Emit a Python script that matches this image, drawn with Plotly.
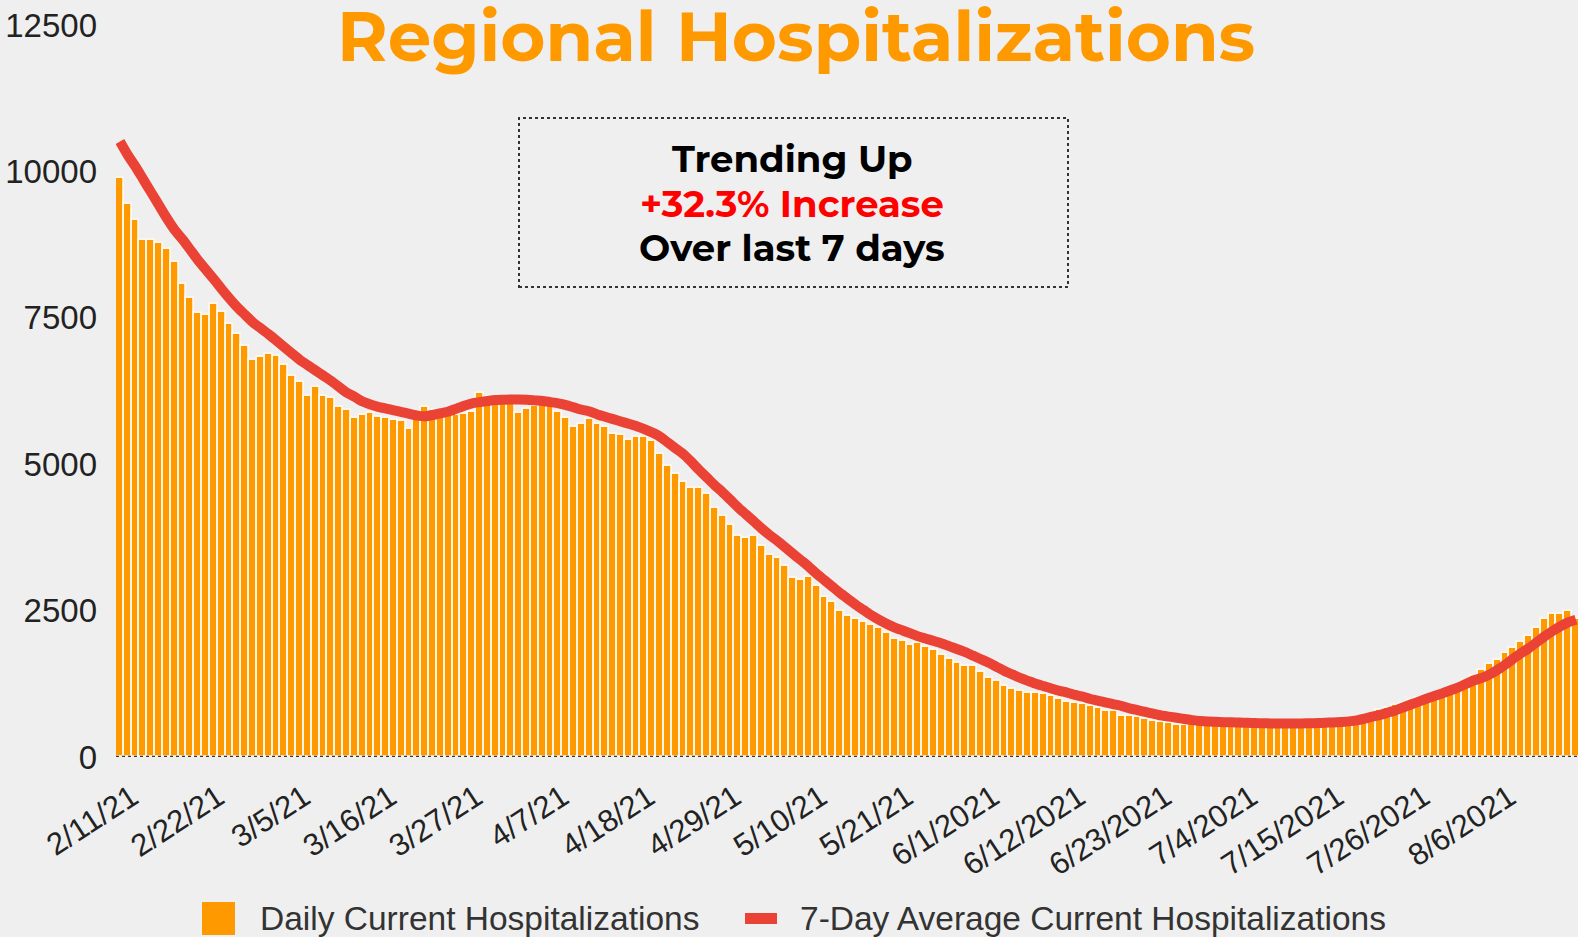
import pandas as pd
import plotly.graph_objects as go

# ---- data -------------------------------------------------------------
start_date = "2021-02-11"

daily_hosp = [
    9880, 9440, 9170, 8830, 8830, 8780, 8680, 8450, 8080, 7830,
    7590, 7550, 7730, 7600, 7400, 7220, 7020, 6780, 6830, 6880,
    6840, 6690, 6510, 6410, 6170, 6310, 6170, 6130, 5980, 5930,
    5790, 5840, 5870, 5800, 5790, 5760, 5730, 5600, 5800, 5970,
    5920, 5800, 5850, 5840, 5860, 5900, 6220, 6150, 6050, 6060,
    6040, 5880, 5950, 6000, 6010, 5990, 5900, 5790, 5640, 5680,
    5770, 5680, 5630, 5510, 5500, 5420, 5460, 5460, 5390, 5170,
    4970, 4840, 4700, 4590, 4590, 4490, 4250, 4110, 3960, 3780,
    3740, 3780, 3600, 3450, 3400, 3270, 3060, 3030, 3070, 2920,
    2730, 2640, 2500, 2400, 2350, 2310, 2260, 2200, 2120, 2020,
    1980, 1920, 1950, 1880, 1830, 1740, 1680, 1600, 1550, 1550,
    1450, 1350, 1290, 1210, 1160, 1120, 1100, 1090, 1070, 1040,
    990, 940, 920, 900, 870, 840, 780, 780, 700, 700,
    690, 650, 610, 600, 580, 550, 540, 570, 560, 575,
    580, 565, 570, 585, 575, 560, 570, 580, 565, 575,
    580, 570, 585, 590, 580, 595, 600, 610, 620, 680,
    740, 800, 840, 880, 920, 980, 1000, 1040, 1080, 1120,
    1160, 1220, 1310, 1390, 1490, 1580, 1650, 1770, 1860, 1960,
    2060, 2200, 2350, 2450, 2450, 2490, 2350,
]

avg_7day = [
    10510, 10280, 10080, 9860, 9640, 9420, 9200, 9000, 8840, 8660,
    8480, 8320, 8160, 7990, 7830, 7680, 7550, 7420, 7320, 7220,
    7110, 7000, 6890, 6780, 6690, 6600, 6510, 6420, 6320, 6220,
    6150, 6070, 6020, 5980, 5950, 5920, 5890, 5860, 5830, 5820,
    5840, 5870, 5900, 5950, 6000, 6040, 6060, 6080, 6095, 6100,
    6105, 6105, 6100, 6090, 6080, 6060, 6040, 6010, 5970, 5930,
    5900, 5850, 5810, 5770, 5730, 5690, 5650, 5600, 5540, 5470,
    5370, 5270, 5170, 5040, 4900, 4770, 4640, 4520, 4390, 4260,
    4140, 4020, 3900, 3790, 3690, 3580, 3470, 3360, 3250, 3130,
    3020, 2910, 2800, 2700, 2600, 2510, 2420, 2340, 2270, 2210,
    2160, 2110, 2060, 2020, 1980, 1940, 1890, 1840, 1790, 1730,
    1670, 1610, 1540, 1470, 1410, 1350, 1300, 1250, 1210, 1170,
    1130, 1100, 1060, 1030, 990, 960, 930, 900, 870, 830,
    800, 770, 740, 710, 690, 670, 650, 630, 615, 605,
    600, 595, 592, 588, 585, 580, 577, 574, 572, 570,
    571, 573, 576, 580, 585, 590, 598, 608, 625, 655,
    690, 720, 760, 800, 850, 900, 950, 1000, 1045, 1090,
    1140, 1190, 1250, 1310, 1350, 1410, 1490, 1580, 1680, 1772,
    1860, 1960, 2060, 2150, 2230, 2300, 2345,
]

tick_dates = ["2021-02-11", "2021-02-22", "2021-03-05", "2021-03-16",
              "2021-03-27", "2021-04-07", "2021-04-18", "2021-04-29",
              "2021-05-10", "2021-05-21", "2021-06-01", "2021-06-12",
              "2021-06-23", "2021-07-04", "2021-07-15", "2021-07-26",
              "2021-08-06"]
tick_labels = ["2/11/21", "2/22/21", "3/5/21", "3/16/21", "3/27/21",
               "4/7/21", "4/18/21", "4/29/21", "5/10/21", "5/21/21",
               "6/1/2021", "6/12/2021", "6/23/2021", "7/4/2021",
               "7/15/2021", "7/26/2021", "8/6/2021"]

y_ticks = [0, 2500, 5000, 7500, 10000, 12500]
y_tick_labels = ["0", "2500", "5000", "7500", "10000", "12500"]

title_text = "Regional Hospitalizations"
callout_lines = ["Trending Up", "+32.3% Increase", "Over last 7 days"]
legend_labels = ["Daily Current Hospitalizations",
                 "7-Day Average Current Hospitalizations"]

# ---- styling ----------------------------------------------------------
ORANGE = "#FF9900"
RED_LINE = "#EA4335"
BG = "#EFEFEF"
AXIS_FONT = "Liberation Sans, Arial, sans-serif"
HEAD_FONT = "Montserrat, Inter, sans-serif"

FIG_W, FIG_H = 1578, 937
M_L, M_R, M_T, M_B = 116, 0, 25, 180
PLOT_W = FIG_W - M_L - M_R
PLOT_H = FIG_H - M_T - M_B


def px_x(x):
    return (x - M_L) / PLOT_W


def px_y(y):
    return (M_T + PLOT_H - y) / PLOT_H


dates = pd.date_range(start_date, periods=len(daily_hosp), freq="D")
day_px = 7.828
x_start = dates[0] - pd.Timedelta(hours=12)
x_end = x_start + pd.Timedelta(days=PLOT_W / day_px)

fig = go.Figure()
fig.add_trace(go.Bar(
    x=dates, y=daily_hosp, name=legend_labels[0],
    marker=dict(color=ORANGE, line=dict(color="#FFF7EA", width=1.8)),
    showlegend=False,
))
fig.add_trace(go.Scatter(
    x=dates, y=avg_7day, name=legend_labels[1], mode="lines",
    line=dict(color=RED_LINE, width=10, shape="spline", smoothing=0.6),
    showlegend=False,
))

shapes = [
    # dotted baseline
    dict(type="line", xref="paper", yref="y", x0=0, x1=1, y0=0, y1=0,
         line=dict(color="#333333", width=2.5, dash="dot"), layer="above"),
    # callout frame
    dict(type="rect", xref="paper", yref="paper",
         x0=px_x(519), x1=px_x(1068), y0=px_y(287), y1=px_y(118),
         line=dict(color="#333333", width=2, dash="dot"),
         fillcolor="rgba(0,0,0,0)", layer="above"),
    # legend swatches
    dict(type="rect", xref="paper", yref="paper",
         x0=px_x(202), x1=px_x(235), y0=px_y(935), y1=px_y(902),
         line=dict(width=0), fillcolor=ORANGE),
    dict(type="rect", xref="paper", yref="paper",
         x0=px_x(745), x1=px_x(777), y0=px_y(924), y1=px_y(913),
         line=dict(width=0), fillcolor=RED_LINE),
]

callout_y = [158, 203, 247]
callout_colors = ["#000000", "#FF0000", "#000000"]

annotations = [
    dict(text=f"<b>{title_text}</b>", xref="paper", yref="paper",
         x=px_x(796), y=px_y(36), xanchor="center", yanchor="middle",
         showarrow=False, font=dict(family=HEAD_FONT, size=69, color=ORANGE)),
    dict(text=legend_labels[0], xref="paper", yref="paper",
         x=px_x(258), y=px_y(918), xanchor="left", yanchor="middle",
         showarrow=False, font=dict(family=AXIS_FONT, size=33.5, color="#333333")),
    dict(text=legend_labels[1], xref="paper", yref="paper",
         x=px_x(798), y=px_y(918), xanchor="left", yanchor="middle",
         showarrow=False, font=dict(family=AXIS_FONT, size=33.5, color="#333333")),
]
for line_text, ly, lc in zip(callout_lines, callout_y, callout_colors):
    annotations.append(dict(
        text=f"<b>{line_text}</b>", xref="paper", yref="paper",
        x=px_x(792), y=px_y(ly), xanchor="center", yanchor="middle",
        showarrow=False, font=dict(family=HEAD_FONT, size=37, color=lc)))

fig.update_layout(
    width=FIG_W, height=FIG_H,
    margin=dict(l=M_L, r=M_R, t=M_T, b=M_B, pad=0),
    paper_bgcolor=BG, plot_bgcolor=BG,
    bargap=0.0,
    shapes=shapes, annotations=annotations,
    xaxis=dict(
        type="date", range=[x_start, x_end],
        tickvals=tick_dates, ticktext=tick_labels, tickangle=-33,
        showgrid=False, zeroline=False, showline=False, ticks="",
        ticklabelshift=12, ticklabelstandoff=15,
        tickfont=dict(family=AXIS_FONT, size=31, color="#222222"),
    ),
    yaxis=dict(
        range=[0, 12500], tickvals=y_ticks, ticktext=y_tick_labels,
        showgrid=False, zeroline=False, showline=False, ticks="",
        ticklabelstandoff=18,
        tickfont=dict(family=AXIS_FONT, size=33, color="#222222"),
    ),
)

fig.write_html("out.html")
